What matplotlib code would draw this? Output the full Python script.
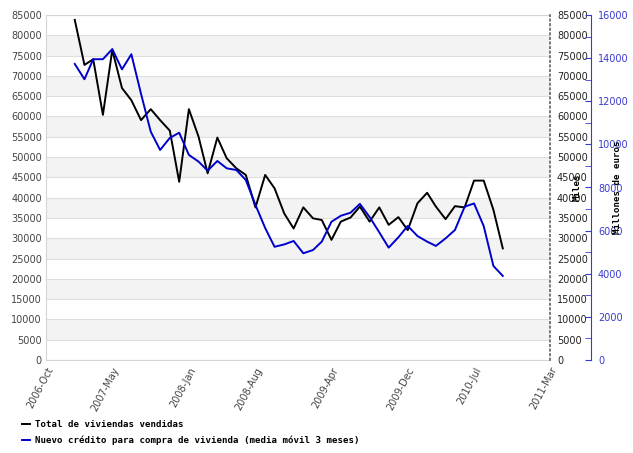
import pandas as pd
import matplotlib.pyplot as plt
from matplotlib.ticker import MultipleLocator

# monthly data, Jan 2007 - Oct 2010
meses = pd.date_range('2007-01-01', periods=46, freq='MS')

viviendas = [83800, 72700, 74100, 60400, 76400, 67000, 64000, 59100, 61800, 59100,
             56500, 43900, 61800, 55000, 46000, 54800, 49700, 47200, 45600, 37600,
             45600, 42300, 36100, 32400, 37600, 34900, 34500, 29600, 34100, 35100,
             37800, 34100, 37600, 33300, 35200, 32000, 38600, 41200, 37800, 34700,
             37900, 37600, 44200, 44200, 37000, 27500]

credito = [13730, 13020, 13950, 13950, 14420, 13480, 14180, 12340, 10590, 9740,
           10300, 10540, 9510, 9200, 8780, 9230, 8890, 8810, 8350, 7190,
           6120, 5250, 5360, 5520, 4950, 5100, 5490, 6410, 6690, 6830,
           7240, 6630, 5920, 5210, 5690, 6220, 5750, 5490, 5290, 5640,
           6030, 7110, 7260, 6210, 4360, 3900]

tick_fechas = ['2006-10-01', '2007-05-01', '2008-01-01', '2008-08-01',
               '2009-04-01', '2009-12-01', '2010-07-01', '2011-03-01']
tick_labels = ['2006-Oct', '2007-May', '2008-Jan', '2008-Aug',
               '2009-Apr', '2009-Dec', '2010-Jul', '2011-Mar']

fig = plt.figure(figsize=(6.33, 4.53), dpi=100)
ax = fig.add_axes([46/633, 93/453, 504/633, 345/453])

# grey bands + grid
for y0 in range(5000, 85000, 10000):
    ax.axhspan(y0, y0 + 5000, color='#f3f3f3', lw=0, zorder=0)
ax.set_ylim(0, 85000)
ax.set_yticks(range(0, 85001, 5000))
ax.yaxis.grid(True, color='#dedede', lw=0.8)
ax.set_axisbelow(True)
ax.tick_params(axis='y', length=0, labelsize=7, labelcolor='#444444', pad=3)
for s in ['left', 'bottom', 'top']:
    ax.spines[s].set_color('#d5d5d5')
ax.spines['right'].set_visible(False)

l1, = ax.plot(meses, viviendas, color='black', lw=1.4, zorder=3)

ax.set_xlim(pd.Timestamp('2006-10-01'), pd.Timestamp('2011-03-01'))
ax.set_xticks(pd.to_datetime(tick_fechas))
ax.set_xticklabels(tick_labels, rotation=62, ha='right', va='top',
                   rotation_mode='anchor', fontsize=7, color='#444444')
ax.tick_params(axis='x', length=0, pad=4)

# right dotted axis, same scale
ax2 = ax.twinx()
ax2.set_ylim(0, 85000)
ax2.set_yticks(range(0, 85001, 5000))
ax2.tick_params(axis='y', length=0, labelsize=7, labelcolor='#222222', pad=5)
for s in ['left', 'bottom', 'top']:
    ax2.spines[s].set_visible(False)
ax2.spines['right'].set_linestyle((0, (1, 2)))
ax2.spines['right'].set_linewidth(1.1)
ax2.spines['right'].set_color('#555555')

# blue axis
ax3 = ax.twinx()
ax3.spines['right'].set_position(('axes', 545/504))
for s in ['left', 'bottom', 'top']:
    ax3.spines[s].set_visible(False)
ax3.spines['right'].set_color('#3a3ad0')
ax3.set_ylim(0, 16000)
ax3.yaxis.set_major_locator(MultipleLocator(2000))
ax3.yaxis.set_minor_locator(MultipleLocator(1000))
ax3.tick_params(axis='y', which='both', direction='in', length=4, color='#3a3ad0',
                labelsize=7, labelcolor='#3a3ad0', pad=5)
l2, = ax3.plot(meses, credito, color='#0000cc', lw=1.4, zorder=3)

mono = dict(family='DejaVu Sans Mono', weight='bold', size=6.6)
fig.text(577/633, 1 - 187/453, 'Miles', rotation=90, ha='center', va='center', **mono)
fig.text(618/633, 1 - 187/453, 'Millones de euros', rotation=90, ha='center', va='center', **mono)

fig.legend([l1, l2], ['Total de viviendas vendidas',
                      'Nuevo crédito para compra de vivienda (media móvil 3 meses)'],
           loc='upper left', bbox_to_anchor=(22/633, 1 - 420/453), frameon=False,
           handlelength=0.9, handletextpad=0.5, labelspacing=0.75, prop=mono,
           borderaxespad=0, borderpad=0)

plt.savefig('out.png')
